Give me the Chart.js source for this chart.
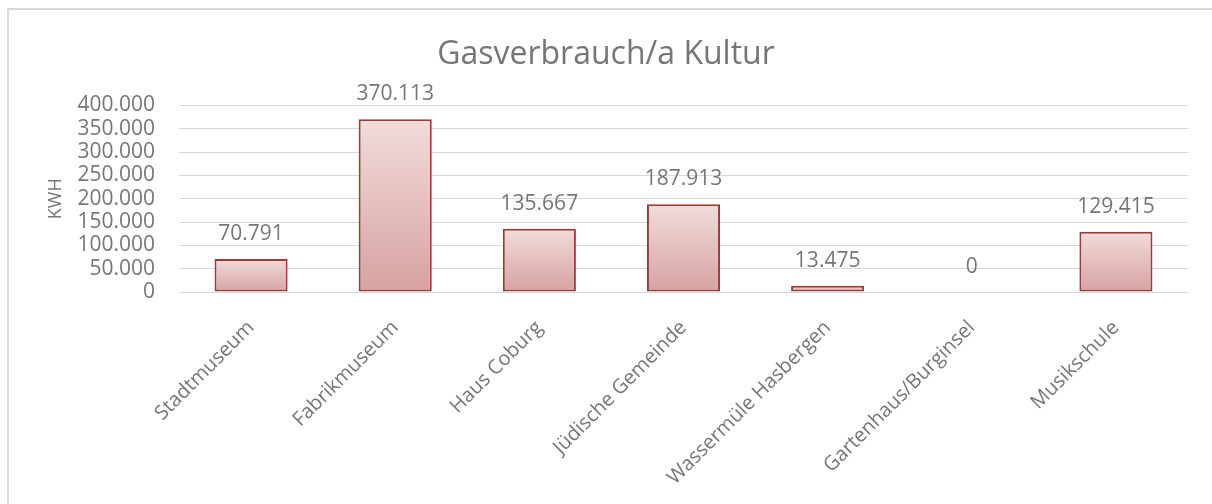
<!DOCTYPE html>
<html>
<head>
<meta charset="utf-8">
<script src="https://cdn.jsdelivr.net/npm/chart.js@4"></script>
<style>
  html, body { margin: 0; padding: 0; background: #fff; }
  #frame {
    position: absolute; left: 7px; top: 8px;
    width: 1230px; height: 520px;
    border: 2px solid #d9d9d9; box-sizing: border-box;
  }
  #wrap { position: absolute; left: 0; top: 0; width: 1212px; height: 504px; }
</style>
</head>
<body>
<div id="frame"></div>
<div id="wrap"><canvas id="chart" width="1212" height="504"></canvas></div>
<script>
// ===== DATA =====
const categories = [
  "Stadtmuseum",
  "Fabrikmuseum",
  "Haus Coburg",
  "Jüdische Gemeinde",
  "Wassermüle Hasbergen",
  "Gartenhaus/Burginsel",
  "Musikschule"
];
const gasKwh = [70791, 370113, 135667, 187913, 13475, 0, 129415];

const chartTitle = "Gasverbrauch/a Kultur";
const yAxisTitle = "KWH";

const textGray = "#767676";
const fontFamily = "'Open Sans', 'DejaVu Sans', sans-serif";

// 370113 -> "370.113"
function fmt(v) {
  return String(Math.round(v)).replace(/\B(?=(\d{3})+(?!\d))/g, ".");
}

// gradient per bar, pale at the top, darker at the base
function barFill(ctx) {
  const chart = ctx.chart;
  if (!chart.chartArea || !chart.scales.y) return "#e6bcbc";
  const y = chart.scales.y;
  const top = y.getPixelForValue(ctx.raw || 0);
  const bottom = y.getPixelForValue(0);
  if (bottom - top < 1) return "#e6bcbc";
  const g = chart.ctx.createLinearGradient(0, top, 0, bottom);
  g.addColorStop(0, "#f2dcdc");
  g.addColorStop(1, "#d6a2a1");
  return g;
}

// ===== VALUE LABELS =====
const valueLabels = {
  id: "valueLabels",
  afterDatasetsDraw(chart) {
    const ctx = chart.ctx;
    const meta = chart.getDatasetMeta(0);
    ctx.save();
    ctx.font = "21px " + fontFamily;
    ctx.fillStyle = textGray;
    ctx.textAlign = "center";
    ctx.textBaseline = "middle";
    meta.data.forEach((bar, i) => {
      ctx.fillText(fmt(gasKwh[i]), bar.x, bar.y - 25);
    });
    ctx.restore();
  }
};

// ===== CHART =====
new Chart(document.getElementById("chart"), {
  type: "bar",
  data: {
    labels: categories,
    datasets: [{
      label: yAxisTitle,
      data: gasKwh,
      backgroundColor: barFill,
      borderColor: "#9b3b39",
      borderWidth: (ctx) => (ctx.raw ? 2 : 0),
      borderSkipped: false,
      barPercentage: 0.507,
      categoryPercentage: 1
    }]
  },
  options: {
    responsive: false,
    animation: false,
    layout: { padding: { left: 24, right: 24, top: 0, bottom: 0 } },
    plugins: {
      legend: { display: false },
      tooltip: { enabled: false },
      title: {
        display: true,
        text: chartTitle,
        color: textGray,
        font: { family: fontFamily, size: 32, weight: "normal", lineHeight: 1.2 },
        padding: { top: 36, bottom: 31 }
      }
    },
    scales: {
      x: {
        grid: { display: false, drawTicks: false },
        border: { display: true, color: "#d9d9d9", width: 1 },
        ticks: {
          color: textGray,
          font: { family: fontFamily, size: 20 },
          minRotation: 45,
          maxRotation: 45,
          padding: 24,
          autoSkip: false
        },
        afterFit(scale) { scale.height = 212; }
      },
      y: {
        min: 0,
        max: 400000,
        grid: { color: "#d9d9d9", lineWidth: 1, drawTicks: false },
        border: { display: false },
        ticks: {
          stepSize: 50000,
          autoSkip: false,
          color: textGray,
          font: { family: fontFamily, size: 21, lineHeight: 1 },
          padding: 24,
          callback: (v) => fmt(v)
        },
        title: {
          display: true,
          text: yAxisTitle,
          color: textGray,
          font: { family: fontFamily, size: 18, weight: "normal" },
          padding: { top: 21, bottom: 0 }
        },
        afterFit(scale) { scale.width = 155; }
      }
    }
  },
  plugins: [valueLabels]
});
</script>
</body>
</html>
